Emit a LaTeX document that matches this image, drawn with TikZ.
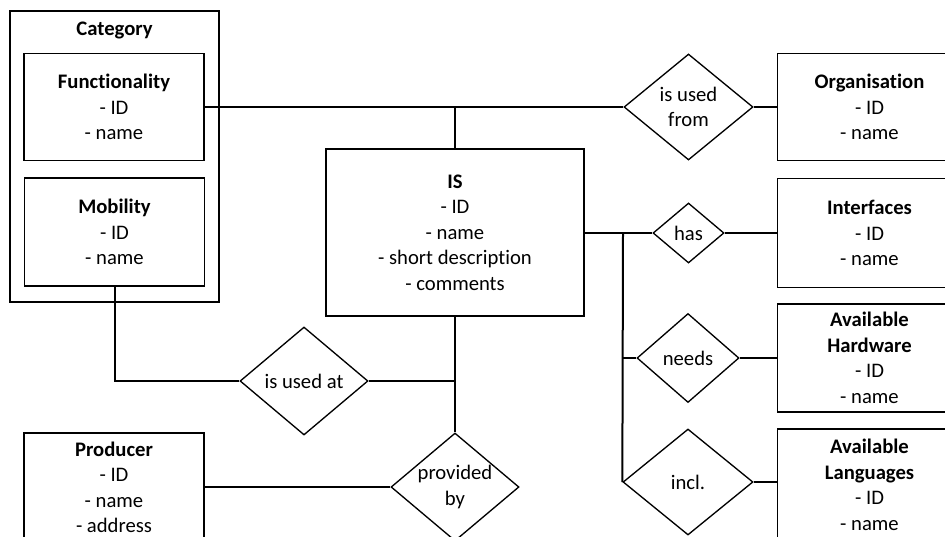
\documentclass[tikz,border=0pt]{standalone}
\usepackage{fontspec}
\setmainfont{Carlito}[Ligatures=NoCommon]
\usetikzlibrary{shapes.geometric}
\tikzset{
  entity/.style={draw, line width=1.3pt, rectangle, inner sep=0pt, align=center,
    font=\fontsize{15.5}{19.1}\selectfont},
  relation/.style={draw, line width=1pt, shape=diamond, inner sep=0pt},
  rellabel/.style={align=center, inner sep=0pt, font=\fontsize{15.5}{19.1}\selectfont},
  link/.style={line width=1.5pt},
}
\begin{document}
\begin{tikzpicture}[x=0.75pt, y=-0.75pt]
\clip (0,0) rectangle (945,536);
\fill[white] (0,0) rectangle (945,536);

% category group with its two entities
\node[entity, minimum width=156.75pt, minimum height=218.25pt] (cat) at (114.5,156.5) {};
\node[rellabel] (cattitle) at (114.5,30) {\textbf{Category}};
\node[entity, minimum width=135pt, minimum height=80.25pt] (func) at (114,107)
  {\textbf{Functionality}\\- ID\\- name};
\node[entity, minimum width=135pt, minimum height=81pt] (mob) at (114.5,232)
  {\textbf{Mobility}\\- ID\\- name};

% central entity
\node[entity, minimum width=193.5pt, minimum height=125.25pt] (is) at (455,232.5)
  {\textbf{IS}\\- ID\\- name\\- short description\\- comments};

% entities on the right (they run past the right edge)
\node[entity, minimum width=150pt, minimum height=80.25pt] (org) at (877.5,107) {};
\node[rellabel] (orgt) at (869.5,107) {\textbf{Organisation}\\- ID\\- name};
\node[entity, minimum width=150pt, minimum height=81.75pt] (intf) at (877.5,233) {};
\node[rellabel] (intft) at (869.5,233) {\textbf{Interfaces}\\- ID\\- name};
\node[entity, minimum width=150pt, minimum height=81pt] (hw) at (877.5,358) {};
\node[rellabel] (hwt) at (869.5,358) {\textbf{Available}\\\textbf{Hardware}\\- ID\\- name};
\node[entity, minimum width=150pt, minimum height=84pt] (lang) at (877.5,485) {};
\node[rellabel] (langt) at (869.5,485) {\textbf{Available}\\\textbf{Languages}\\- ID\\- name};

% producer
\node[entity, minimum width=135pt, minimum height=81.75pt] (prod) at (114,487.5)
  {\textbf{Producer}\\- ID\\- name\\- address};

% relationships
\node[relation, minimum width=96.75pt, minimum height=79.5pt] (usedfrom) at (688.5,107) {};
\node[rellabel] (usedfromt) at (usedfrom) {is used\\from};
\node[relation, minimum width=53.25pt, minimum height=45pt] (has) at (688.5,233) {};
\node[rellabel] (hast) at (has) {has};
\node[relation, minimum width=76.5pt, minimum height=66.75pt] (needs) at (688,358) {};
\node[rellabel] (needst) at (needs) {needs};
\node[relation, minimum width=97.5pt, minimum height=79.5pt] (incl) at (688,482) {};
\node[rellabel] (inclt) at (incl) {incl.};
\node[relation, minimum width=96pt, minimum height=81pt] (usedat) at (304,381) {};
\node[rellabel] (usedatt) at (usedat) {is used at};
\node[relation, minimum width=96pt, minimum height=81pt] (prov) at (455,487) {};
\node[rellabel] (provt) at (prov) {provided\\by};

% connectors
\coordinate (jtop) at (is.north |- usedfrom.west);
\coordinate (jright) at (623,233);
\coordinate (jbottom) at (is.south |- usedat.east);

\draw[link] (func.east |- usedfrom.west) -- (usedfrom.west);
\draw[link] (usedfrom.east) -- (org.west |- usedfrom.east);
\draw[link] (is.north) -- (jtop);

\draw[link] (is.east |- has.west) -- (has.west);
\draw[link] (has.east) -- (intf.west |- has.east);
\draw[link] (jright) -- (incl.west);
\draw[link] (jright |- needs.west) -- (needs.west);
\draw[link] (needs.east) -- (hw.west |- needs.east);
\draw[link] (incl.east) -- (lang.west |- incl.east);

\draw[link] (mob.south) |- (usedat.west);
\draw[link] (usedat.east) -- (jbottom);
\draw[link] (is.south) -- (prov.north);
\draw[link] (prod.east |- prov.west) -- (prov.west);
\end{tikzpicture}
\end{document}
